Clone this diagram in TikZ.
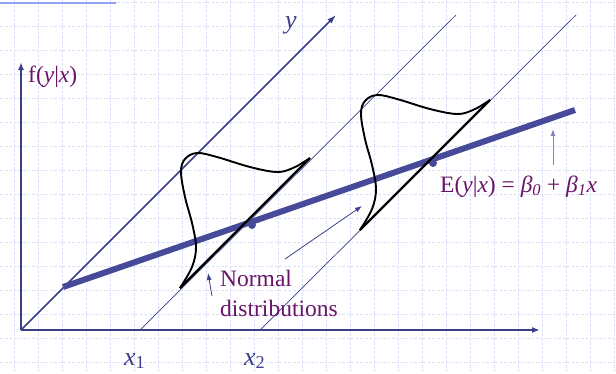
\documentclass[tikz,border=0pt]{standalone}
\usepackage{fontspec}
\setmainfont{Liberation Serif}
\usetikzlibrary{arrows.meta}

\definecolor{gridblue}{RGB}{220,226,250}
\definecolor{axisblue}{RGB}{60,62,140}
\definecolor{lineblue}{RGB}{70,74,152}
\definecolor{paleblue}{RGB}{150,160,240}
\definecolor{softblue}{RGB}{130,132,185}
\definecolor{labpurple}{RGB}{105,20,105}

% one bell curve, drawn relative to the foot of its base line
\newcommand\bellcurve{%
  plot[smooth, tension=0.6] coordinates {(180,288) (192,267) (196,247) (192,223)
    (185,197) (181,172) (185,159) (197,153) (217,157) (250,167) (277,172)
    (293,168) (307,160) (310,158)}}

\begin{document}
\begin{tikzpicture}[
    x=1pt, y=-1pt,
    font=\fontsize{23.5}{30}\selectfont,
    gridline/.style={draw=gridblue, line width=0.9pt, dash pattern=on 3pt off 1.5pt},
    axis/.style={draw=axisblue, line width=2pt, -{Latex[length=8pt,width=6pt]}},
    skewaxis/.style={draw=axisblue, line width=1.5pt, -{Latex[length=9pt,width=6pt]}},
    guide/.style={draw=axisblue, line width=0.7pt},
    regline/.style={draw=lineblue, line width=6pt},
    base/.style={draw=black, line width=2.2pt},
    bell/.style={draw=black, line width=1.9pt},
    note/.style={draw=axisblue, line width=0.8pt, -{Latex[length=7pt,width=5pt]}},
    mathlab/.style={text=axisblue, inner sep=0pt, font=\fontsize{26}{30}\selectfont},
    textlab/.style={text=labpurple, inner sep=0pt}
]
\useasboundingbox (0,0) rectangle (616,373);

% background grid
\foreach \gx in {14,38,...,614}
  \draw[gridline] (\gx,0) -- (\gx,373);
\foreach \gy in {2,26,...,362}
  \draw[gridline] (0,\gy) -- (616,\gy);
\draw[draw=paleblue, line width=2pt] (0,3) -- (116,3);

% axes
\coordinate (origin) at (21,330);
\coordinate (ftop) at (21,62);
\coordinate (xend) at (540,330);
\coordinate (yend) at (336,15);
\coordinate (xone) at (140,330);
\coordinate (xonetop) at (456,15);
\coordinate (xtwo) at (260,330);
\coordinate (xtwotop) at (576,15);

\draw[axis] (origin) -- (ftop);
\draw[axis] (origin) -- (xend);
\draw[skewaxis] (origin) -- (yend);
\draw[guide] (xone) -- (xonetop);
\draw[guide] (xtwo) -- (xtwotop);

\node[textlab, anchor=base west] (fyx) at (28,82) {f(\textit{y}|\textit{x})};
\node[mathlab, anchor=base west] (ylab) at (285,28) {\textit{y}};
\node[mathlab, anchor=base west] (xonelab) at (124,365) {\textit{x}\textsubscript{1}};
\node[mathlab, anchor=base west] (xtwolab) at (244,365) {\textit{x}\textsubscript{2}};

% regression line and means
\coordinate (regstart) at (63,287);
\coordinate (regend) at (575,110);
\draw[regline] (regstart) -- (regend);
\fill[lineblue] (252,225) circle (4);
\fill[lineblue] (433,163) circle (4);

% distributions
\coordinate (baseone) at (180,288);
\coordinate (baseonetop) at (310,158);
\coordinate (basetwo) at (360,230);
\coordinate (basetwotop) at (490,100);
\draw[base] (baseone) -- (baseonetop);
\draw[base] (basetwo) -- (basetwotop);
\draw[bell] \bellcurve;
\begin{scope}[shift={(180,-58)}]
  \draw[bell] \bellcurve;
\end{scope}

% annotations
\node[textlab, anchor=north west, align=left] (normlab) at (220,270)
  {Normal\\distributions};
\coordinate (noteonefoot) at (212,296);
\coordinate (noteonetip) at (208,273);
\coordinate (notetwofoot) at (285,259);
\coordinate (notetwotip) at (362,206);
\draw[note] (noteonefoot) -- (noteonetip);
\draw[note] (notetwofoot) -- (notetwotip);

\node[textlab, anchor=base west] (elab) at (440,192)
  {E(\textit{y}|\textit{x}) = \textit{β\textsubscript{0}} + \textit{β\textsubscript{1}x}};
\coordinate (efoot) at (553,165);
\coordinate (etip) at (553,129);
\draw[draw=softblue, line width=1pt, -{Latex[length=7pt,width=5pt]}] (efoot) -- (etip);

\end{tikzpicture}
\end{document}
